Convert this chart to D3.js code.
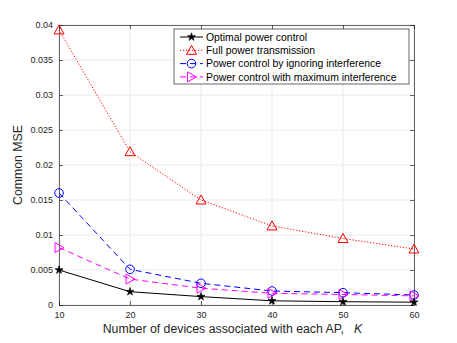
<!DOCTYPE html>
<html>
<head>
<meta charset="utf-8">
<script src="https://cdn.jsdelivr.net/npm/d3@7"></script>
<style>
  body { margin: 0; background: #fff; }
  svg { font-family: "Liberation Sans", Arial, sans-serif; }
</style>
</head>
<body>
<div class="chart"></div>
<script>
// DATA ------------------------------------
const devices = [10, 20, 30, 40, 50, 60];
const optimal = [0.0050, 0.0019, 0.0012, 0.0006, 0.00047, 0.0004];
const fullPower = [0.0393, 0.0219, 0.0150, 0.0113, 0.0095, 0.0080];
const ignoreInterf = [0.0160, 0.0051, 0.0031, 0.0020, 0.00176, 0.00143];
const maxInterf = [0.0082, 0.0037, 0.0024, 0.00167, 0.0015, 0.0013];
const yTicks = [0, 0.005, 0.01, 0.015, 0.02, 0.025, 0.03, 0.035, 0.04];
const seriesNames = [
  "Optimal power control",
  "Full power transmission",
  "Power control by ignoring interference",
  "Power control with maximum interference"
];

// CHART INIT ------------------------------
const margin = { top: 25, left: 59, right: 43, bottom: 38 };
const totalWidth = 457;
const totalHeight = 343;
const width = totalWidth - margin.left - margin.right,
  height = totalHeight - margin.top - margin.bottom;

const svg = d3
  .select(".chart")
  .append("svg")
  .attr("width", totalWidth)
  .attr("height", totalHeight)
  .append("g")
  .attr("transform", "translate(" + margin.left + "," + margin.top + ")");

const xScale = d3.scaleLinear().domain([10, 60]).range([0, width]);
const yScale = d3.scaleLinear().domain([0, 0.04]).range([height, 0]);

// grid
svg.append("g")
  .selectAll("line")
  .data(devices)
  .join("line")
  .attr("x1", (d) => xScale(d)).attr("x2", (d) => xScale(d))
  .attr("y1", 0).attr("y2", height)
  .attr("stroke", "#e6e6e6").attr("stroke-width", 0.8);

svg.append("g")
  .selectAll("line")
  .data(yTicks)
  .join("line")
  .attr("x1", 0).attr("x2", width)
  .attr("y1", (d) => yScale(d)).attr("y2", (d) => yScale(d))
  .attr("stroke", "#e6e6e6").attr("stroke-width", 0.8);

// axes (MATLAB style box with inward ticks)
const fmt = (d) => (d === 0 ? "0" : String(+d.toFixed(3)));

const xAxis = d3.axisBottom(xScale).tickValues(devices).tickSize(-4).tickPadding(7);
const yAxis = d3.axisLeft(yScale).tickValues(yTicks).tickSize(-4).tickPadding(6).tickFormat(fmt);

svg.append("g").attr("class", "axis").attr("transform", `translate(0, ${height})`).call(xAxis);
svg.append("g").attr("class", "axis").call(yAxis);
svg.append("g").attr("class", "axis")
  .call(d3.axisTop(xScale).tickValues(devices).tickSize(-4).tickFormat(""));
svg.append("g").attr("class", "axis").attr("transform", `translate(${width}, 0)`)
  .call(d3.axisRight(yScale).tickValues(yTicks).tickSize(-4).tickFormat(""));

svg.selectAll(".axis path").attr("stroke", "#262626").attr("stroke-width", 0.7);
svg.selectAll(".axis line").attr("stroke", "#262626").attr("stroke-width", 0.7);
svg.selectAll(".axis text").attr("fill", "#262626").style("font-size", "9px");

// axis titles
svg.append("text")
  .attr("x", width / 2 - 4)
  .attr("y", height + 28)
  .attr("text-anchor", "middle")
  .attr("fill", "#262626")
  .style("font-size", "12.3px")
  .html('Number of devices associated with each AP, &#160;&#160;<tspan font-style="italic">K</tspan>');

svg.append("text")
  .attr("transform", `translate(-37, ${height / 2}) rotate(-90)`)
  .attr("text-anchor", "middle")
  .attr("fill", "#262626")
  .style("font-size", "12.3px")
  .text("Common MSE");

// SERIES ----------------------------------
const series = [
  { name: seriesNames[0], values: optimal, color: "#000000", dash: null, marker: "star" },
  { name: seriesNames[1], values: fullPower, color: "#ff0000", dash: "1.2,1.8", marker: "triangle" },
  { name: seriesNames[2], values: ignoreInterf, color: "#0000ff", dash: "6,4", marker: "circle" },
  { name: seriesNames[3], values: maxInterf, color: "#ff00ff", dash: "6,4", marker: "right" }
];

const line = d3.line()
  .x((d, i) => xScale(devices[i]))
  .y((d) => yScale(d));

function drawMarker(g, type, x, y, color) {
  if (type === "star") {
    g.append("path")
      .attr("d", d3.symbol(d3.symbolStar, 20)())
      .attr("transform", `translate(${x},${y})`)
      .attr("fill", "#000").attr("stroke", "#000").attr("stroke-width", 0.6);
  } else if (type === "triangle") {
    g.append("path")
      .attr("d", "M0,-5L5,4L-5,4Z")
      .attr("transform", `translate(${x},${y})`)
      .attr("fill", "none").attr("stroke", color).attr("stroke-width", 1);
  } else if (type === "circle") {
    g.append("circle")
      .attr("cx", x).attr("cy", y).attr("r", 4.3)
      .attr("fill", "none").attr("stroke", color).attr("stroke-width", 1);
  } else if (type === "right") {
    g.append("path")
      .attr("d", "M-4,-5L5,0L-4,5Z")
      .attr("transform", `translate(${x},${y})`)
      .attr("fill", "none").attr("stroke", color).attr("stroke-width", 1);
  }
}

const drawOrder = [1, 2, 3, 0];
drawOrder.forEach((k) => {
  const s = series[k];
  const g = svg.append("g");
  g.append("path")
    .datum(s.values)
    .attr("d", line)
    .attr("fill", "none")
    .attr("stroke", s.color)
    .attr("stroke-width", 1)
    .attr("stroke-dasharray", s.dash);
  s.values.forEach((v, i) => drawMarker(g, s.marker, xScale(devices[i]), yScale(v), s.color));
});

// LEGEND ----------------------------------
const legend = svg.append("g").attr("transform", "translate(115, 4)");
legend.append("rect")
  .attr("width", 235).attr("height", 55)
  .attr("fill", "#fff").attr("stroke", "#262626").attr("stroke-width", 0.7);

series.forEach((s, i) => {
  const y = 8 + i * 13.3;
  const row = legend.append("g");
  row.append("line")
    .attr("x1", 6).attr("x2", 29).attr("y1", y).attr("y2", y)
    .attr("stroke", s.color).attr("stroke-width", 1)
    .attr("stroke-dasharray", s.dash);
  drawMarker(row, s.marker, 17.5, y, s.color);
  row.append("text")
    .attr("x", 32).attr("y", y + 3.8)
    .attr("fill", "#000")
    .style("font-size", "10.4px")
    .text(s.name);
});
</script>
</body>
</html>
